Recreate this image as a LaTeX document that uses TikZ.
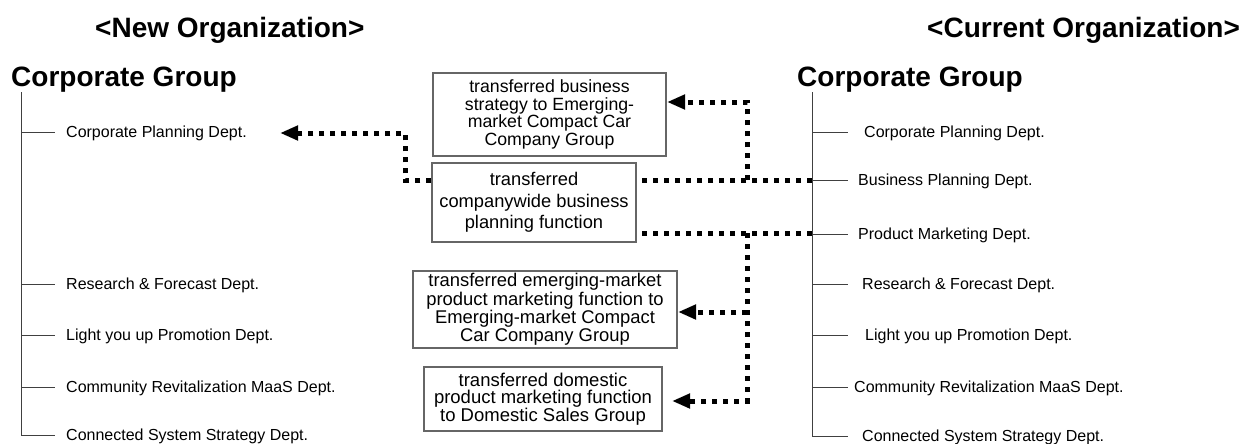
\documentclass[tikz,border=0pt]{standalone}
\usepackage{fontspec}
\setmainfont{Liberation Sans}
\usetikzlibrary{arrows.meta}
\begin{document}
\begin{tikzpicture}[x=1pt,y=-1pt,
  heading/.style={font=\fontsize{28}{30}\selectfont\bfseries, inner sep=0pt, anchor=base west},
  dept/.style={font=\fontsize{16}{18}\selectfont, inner sep=0pt, anchor=base west},
  tree/.style={line width=1pt, draw=black!75},
  box/.style={draw=black!60, line width=1.2pt, fill=white, align=center, inner sep=0pt},
  link/.style={line width=5pt, dash pattern=on 5pt off 6pt},
  tip/.style={-{Triangle[length=18pt,width=14pt]}}
]
\useasboundingbox (0,0) rectangle (1242,444);

% headings
\node[heading] (newh) at (95,38) {<New Organization>};
\node[heading] (curh) at (927,38) {<Current Organization>};
\node[heading] (lcg) at (11,86.7) {Corporate Group};
\node[heading] (rcg) at (797,86.7) {Corporate Group};

% left tree
\coordinate (lt) at (21,92);
\draw[tree] (lt) -- (21,435) -- (55,435);
\foreach \y/\n/\t in {132/l1/Corporate Planning Dept., 284/l2/Research \& Forecast Dept., 335/l3/Light you up Promotion Dept., 387/l4/Community Revitalization MaaS Dept., 435/l5/Connected System Strategy Dept.}{
  \draw[tree] (21,\y) -- (55,\y);
  \node[dept] (\n) at (66,\y+5.7) {\t};
}

% right tree
\coordinate (rt) at (812,92);
\draw[tree] (rt) -- (812,436) -- (847,436);
\foreach \y/\x/\n/\t in {132/864/r1/Corporate Planning Dept., 180/858/r2/Business Planning Dept., 234/858/r3/Product Marketing Dept., 284/862/r4/Research \& Forecast Dept., 335/865/r5/Light you up Promotion Dept., 387/854/r6/Community Revitalization MaaS Dept., 436/862/r7/Connected System Strategy Dept.}{
  \draw[tree] (812,\y) -- (848,\y);
  \node[dept] (\n) at (\x,\y+5.7) {\t};
}

% boxes
\node[box, minimum width=233pt, minimum height=83pt, font=\fontsize{17.7}{17.7}\selectfont] (box1) at (549.5,114.5)
  {transferred business\\strategy to Emerging-\\market Compact Car\\Company Group};
\node[box, minimum width=204pt, minimum height=79pt, font=\fontsize{18.3}{21.5}\selectfont] (box2) at (534,202.5)
  {transferred\\companywide business\\planning function};
\node[box, minimum width=264pt, minimum height=77pt, font=\fontsize{18.4}{18.3}\selectfont] (box3) at (545,309.5)
  {transferred emerging-market\\product marketing function to\\Emerging-market Compact\\Car Company Group};
\node[box, minimum width=238pt, minimum height=64pt, font=\fontsize{18.5}{17.5}\selectfont] (box4) at (543,399)
  {transferred domestic\\product marketing function\\to Domestic Sales Group};

% connector coordinates
\coordinate (rBP) at (812,180);
\coordinate (rPM) at (812,233);
\coordinate (j1) at (405,133);
\coordinate (cpT) at (280,133);
\coordinate (j2) at (747,180);
\coordinate (b1T) at (667,102);
\coordinate (j3) at (747,233);
\coordinate (b3T) at (678,312);
\coordinate (b4T) at (672,401);

% business planning function
\draw[link] (rBP) -- (rBP -| box2.east);
\draw[link,tip] (box2.west |- rBP) -| (j1) -- (cpT);
\draw[link,tip] (j2) |- (b1T);

% product marketing function
\draw[link] (rPM) -- (rPM -| box2.east);
\draw[link,tip] (j3) |- (b4T);
\draw[link,tip] (j3 |- b3T) -- (b3T);
\end{tikzpicture}
\end{document}
